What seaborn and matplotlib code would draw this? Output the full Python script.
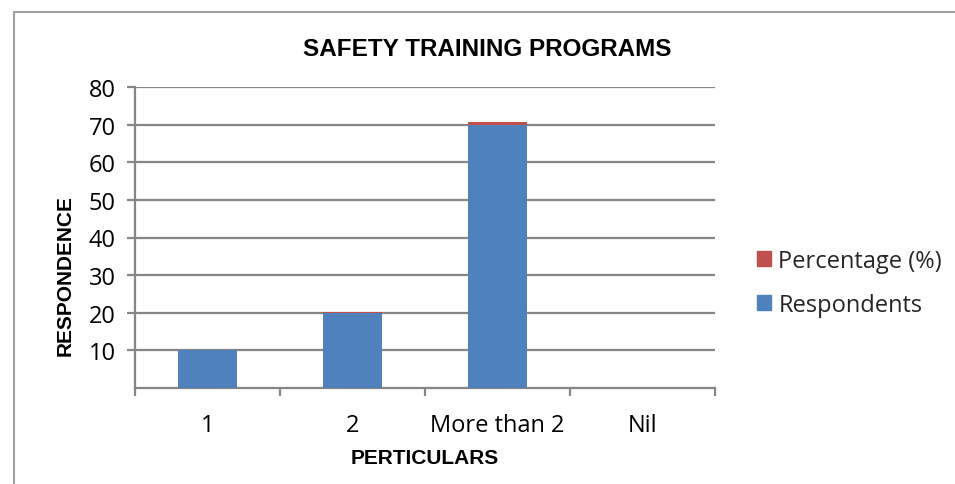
import matplotlib
matplotlib.use("Agg")
from matplotlib import pyplot as plt
from matplotlib.patches import Rectangle, Patch
import seaborn as sns
import pandas as pd

categories = ["1", "2", "More than 2", "Nil"]
respondents = [10, 20, 70, 0]
percentage = [0.1, 0.2, 0.7, 0]   # 10%, 20%, 70% entered as fractions
y_ticks = [10, 20, 30, 40, 50, 60, 70, 80]

df = pd.DataFrame({"Particulars": categories,
                   "Respondents": respondents,
                   "Percentage (%)": percentage})
df["total"] = df["Respondents"] + df["Percentage (%)"]

sns.set_theme(style="white")
plt.rcParams["font.family"] = ["Open Sans", "DejaVu Sans"]
grey = "#868686"
blue = "#4f81bd"
red = "#c0504d"

fig = plt.figure(figsize=(9.55, 4.85), dpi=100)
ax = fig.add_axes([135 / 955, 1 - 389 / 485, 580 / 955, 301 / 485])

# stacked look: total in red, respondents in blue drawn over it
sns.barplot(data=df, x="Particulars", y="total", color=red, width=0.41,
            saturation=1, linewidth=0, ax=ax, zorder=3)
sns.barplot(data=df, x="Particulars", y="Respondents", color=blue, width=0.41,
            saturation=1, linewidth=0, ax=ax, zorder=4)

ax.set_ylim(0, 80)
ax.set_xlim(-0.5, 3.5)
ax.set_yticks(y_ticks)
ax.yaxis.grid(True, color=grey, linewidth=1.6, zorder=0)
ax.set_axisbelow(True)
for s in ["top", "right"]:
    ax.spines[s].set_visible(False)
for s in ["left", "bottom"]:
    ax.spines[s].set_color(grey)
    ax.spines[s].set_linewidth(1.6)

ax.tick_params(axis="y", left=True, length=6, width=1.6, color=grey,
               labelsize=17, pad=8, labelcolor="black")
ax.set_xticks([-0.5, 0.5, 1.5, 2.5, 3.5], minor=True)
ax.tick_params(axis="x", which="minor", bottom=True, length=6, width=1.6, color=grey)
ax.tick_params(axis="x", which="major", bottom=False, labelsize=17, pad=12,
               labelcolor="black")

bold = dict(family=["Liberation Sans", "DejaVu Sans"], fontweight="bold")
ax.set_xlabel("PERTICULARS", fontsize=15, labelpad=8, color="black", **bold)
ax.set_ylabel("")
fig.text(65 / 955, 1 - 276 / 485, "RESPONDENCE", rotation=90, ha="center",
         va="center", fontsize=15, color="black", **bold)
fig.text(487 / 955, 1 - 49 / 485, "SAFETY TRAINING PROGRAMS", ha="center",
         va="center", fontsize=17.5, color="black", **bold)

handles = [Patch(color=red, label="Percentage (%)"),
           Patch(color=blue, label="Respondents")]
fig.legend(handles=handles, loc="center left", bbox_to_anchor=(757 / 955, 1 - 284 / 485),
           frameon=False, fontsize=17, handlelength=0.6, handleheight=0.6,
           handletextpad=0.3, labelspacing=0.85, borderpad=0, borderaxespad=0)

fig.patches.append(Rectangle((14 / 955, -0.1), 1.1, 1 - 13 / 485 + 0.1,
                             transform=fig.transFigure, fill=False,
                             edgecolor="#a0a0a0", linewidth=1.5))

plt.savefig("out.png", dpi=100)
